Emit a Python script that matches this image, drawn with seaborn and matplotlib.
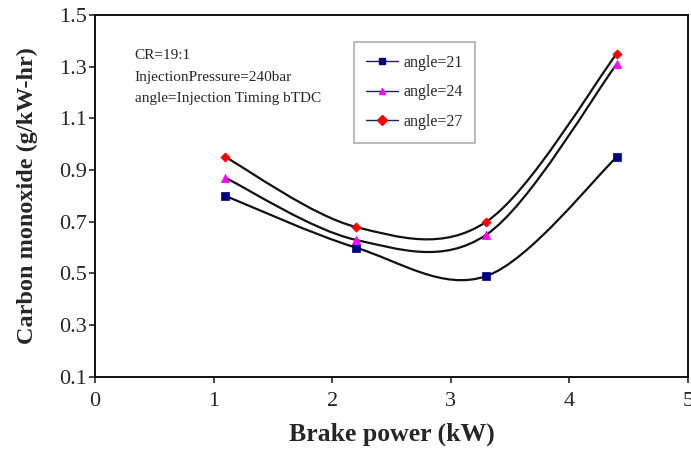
import numpy as np
import pandas as pd
import matplotlib
matplotlib.use('Agg')
import matplotlib.pyplot as plt
from matplotlib.path import Path
from matplotlib.patches import PathPatch
from matplotlib.lines import Line2D
import seaborn as sns

# data
brake_power = [1.1, 2.2, 3.3, 4.4]
co_angle21 = [0.80, 0.60, 0.49, 0.95]
co_angle24 = [0.87, 0.63, 0.65, 1.31]
co_angle27 = [0.95, 0.68, 0.70, 1.35]
labels = ['angle=21', 'angle=24', 'angle=27']
colors = ['#000080', '#ff00ff', '#ff0000']
markers = ['s', '^', 'D']
marker_sizes = [30, 36, 22]


def smooth_path(xs, ys):
    # Excel-style smoothed line: cubic bezier segments through the points
    p = np.column_stack([xs, ys]).astype(float)
    n = len(p)
    verts = [p[0]]
    codes = [Path.MOVETO]
    for i in range(n - 1):
        prev = p[i - 1] if i > 0 else p[i]
        nxt = p[i + 2] if i + 2 < n else p[i + 1]
        c1 = p[i] + (p[i + 1] - prev) / 6
        c2 = p[i + 1] - (nxt - p[i]) / 6
        verts += [c1, c2, p[i + 1]]
        codes += [Path.CURVE4] * 3
    return Path(verts, codes)


sns.set_style('ticks')
plt.rcParams['font.family'] = ['Liberation Serif', 'DejaVu Serif']

fig = plt.figure(figsize=(6.91, 4.53), dpi=100)
ax = fig.add_axes([0.1375, 0.168, 0.858, 0.799])

series = [co_angle21, co_angle24, co_angle27]
for vals, lab, col, mk, ms in zip(series, labels, colors, markers, marker_sizes):
    ax.add_patch(PathPatch(smooth_path(brake_power, vals), facecolor='none',
                           edgecolor='#111111', lw=1.6, zorder=2))
    df = pd.DataFrame({'x': brake_power, 'y': vals})
    sns.scatterplot(data=df, x='x', y='y', color=col, marker=mk, s=ms,
                    edgecolor=col, linewidth=0.5, ax=ax, zorder=3)

ax.set_xlim(0, 5)
ax.set_ylim(0.1, 1.5)
ax.set_xticks([0, 1, 2, 3, 4, 5])
ax.set_yticks([0.1, 0.3, 0.5, 0.7, 0.9, 1.1, 1.3, 1.5])
ax.set_yticklabels(['0.1', '0.3', '0.5', '0.7', '0.9', '1.1', '1.3', '1.5'])
ax.tick_params(labelsize=16, length=4, width=1.2, direction='out', pad=2)
ax.tick_params(axis='x', pad=7)
for s in ax.spines.values():
    s.set_linewidth(1.4)
    s.set_color('#111111')

ax.set_xlabel('Brake power (kW)', fontsize=18.5, fontweight='bold', labelpad=8)
ax.set_ylabel('Carbon monoxide (g/kW-hr)', fontsize=17.5, fontweight='bold', labelpad=15)

ax.text(0.067, 0.905, 'CR=19:1\nInjectionPressure=240bar\nangle=Injection Timing bTDC',
        transform=ax.transAxes, fontsize=11, va='top', linespacing=1.85)

handles = [Line2D([0], [0], color='#202050', lw=1, marker=mk, markersize=5,
                  markerfacecolor=col, markeredgecolor=col)
           for col, mk in zip(colors, markers)]
leg = ax.legend(handles, labels, loc='upper left', bbox_to_anchor=(0.436, 0.925),
                fontsize=11.5, frameon=True, fancybox=False, handlelength=2.0,
                labelspacing=0.85, borderpad=0.8, handletextpad=0.3, borderaxespad=0)
leg.get_frame().set_edgecolor('#999999')
leg.get_frame().set_linewidth(1.2)

fig.savefig('out.png', dpi=100)
